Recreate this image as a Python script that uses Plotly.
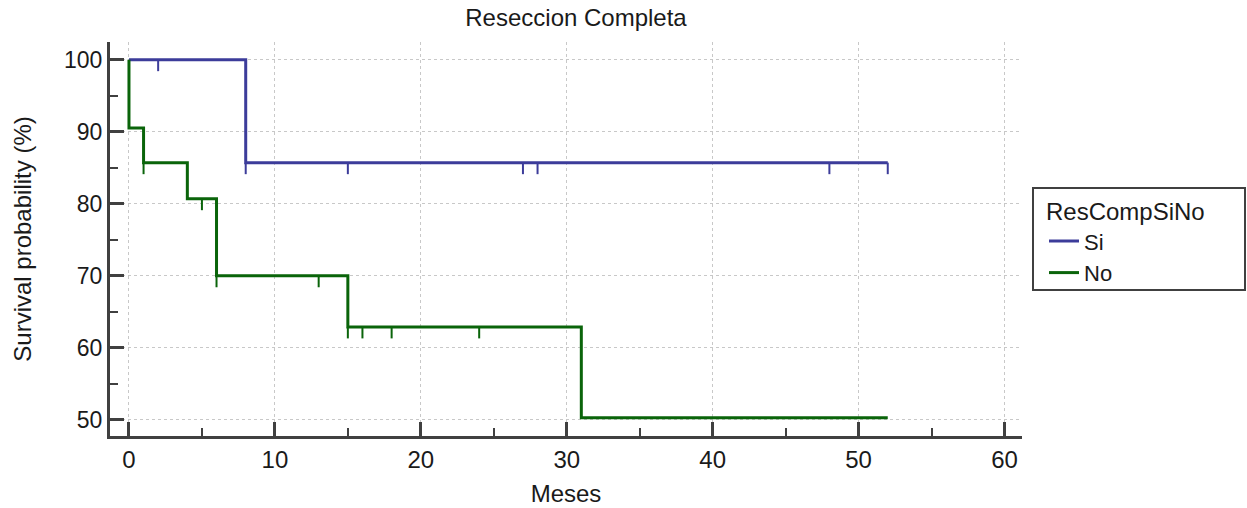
import plotly.graph_objects as go

# Kaplan-Meier step data (time in months, survival %)
si_time = [0, 8, 52]
si_surv = [100.0, 85.7, 85.7]
si_cens_time = [2, 8, 15, 27, 28, 48, 52]
si_cens_surv = [100.0, 85.7, 85.7, 85.7, 85.7, 85.7, 85.7]

no_time = [0, 0, 1, 4, 6, 15, 31, 52]
no_surv = [100.0, 90.5, 85.7, 80.7, 70.0, 62.9, 50.3, 50.3]
no_cens_time = [1, 5, 6, 13, 15, 16, 18, 24]
no_cens_surv = [85.7, 80.7, 70.0, 70.0, 62.9, 62.9, 62.9, 62.9]

x_ticks = [0, 10, 20, 30, 40, 50, 60]
y_ticks = [50, 60, 70, 80, 90, 100]

BLUE = "#3c3c9a"
GREEN = "#0a640a"
AXC = "#404040"
FONT = "Liberation Sans, Arial, sans-serif"
TICK_DROP = 1.6  # censor mark length in survival units


def cens_segments(ts, ss):
    xs, ys = [], []
    for t, s in zip(ts, ss):
        xs += [t, t, None]
        ys += [s, s - TICK_DROP, None]
    return xs, ys


fig = go.Figure()
fig.add_trace(go.Scatter(x=si_time, y=si_surv, mode="lines", line_shape="hv",
                         line=dict(color=BLUE, width=3), name="Si"))
fig.add_trace(go.Scatter(x=no_time, y=no_surv, mode="lines", line_shape="hv",
                         line=dict(color=GREEN, width=3), name="No"))
cx, cy = cens_segments(si_cens_time, si_cens_surv)
fig.add_trace(go.Scatter(x=cx, y=cy, mode="lines", line=dict(color=BLUE, width=2),
                         showlegend=False, hoverinfo="skip"))
cx, cy = cens_segments(no_cens_time, no_cens_surv)
fig.add_trace(go.Scatter(x=cx, y=cy, mode="lines", line=dict(color=GREEN, width=2),
                         showlegend=False, hoverinfo="skip"))

PW = 912.0
PH = 394.0

fig.update_layout(
    width=1247, height=508,
    margin=dict(l=110, r=225, t=42, b=72, autoexpand=False),
    paper_bgcolor="white", plot_bgcolor="white",
    font=dict(family=FONT, size=24, color="#1a1a1a"),
    title=dict(text="Reseccion Completa", x=(576 - 110) / PW, xref="paper",
               xanchor="center", y=1 - 18 / 508, yanchor="middle",
               font=dict(size=24, family=FONT, color="#1a1a1a")),
    showlegend=True,
    legend=dict(
        title=dict(text="ResCompSiNo", font=dict(size=24, family=FONT)),
        font=dict(size=22, family=FONT),
        x=(1044 - 110) / PW, xanchor="left",
        y=(436 - 189) / PH, yanchor="top",
        borderwidth=0, bgcolor="rgba(0,0,0,0)",
        tracegroupgap=0,
    ),
    shapes=[dict(type="rect", xref="paper", yref="paper",
                 x0=(1033 - 110) / PW, x1=(1245 - 110) / PW,
                 y0=(436 - 290) / PH, y1=(436 - 188) / PH,
                 line=dict(color=AXC, width=2), fillcolor="rgba(0,0,0,0)")],
)

fig.update_xaxes(
    range=[-1.3, 61.2], tickvals=x_ticks, ticktext=[str(v) for v in x_ticks],
    showline=True, linecolor=AXC, linewidth=3,
    ticks="inside", ticklen=14, tickwidth=3, tickcolor=AXC,
    minor=dict(dtick=5, tick0=0, ticks="inside", ticklen=8, tickwidth=2, tickcolor=AXC, showgrid=False),
    showgrid=True, gridcolor="#c8c8c8", griddash="dot", gridwidth=1,
    zeroline=False, automargin=False,
    title=dict(text="Meses", font=dict(size=24, family=FONT), standoff=14),
    tickfont=dict(size=24, family=FONT),
)
fig.update_yaxes(
    range=[47.75, 102.45], tickvals=y_ticks, ticktext=[str(v) for v in y_ticks],
    showline=True, linecolor=AXC, linewidth=3,
    ticks="inside", ticklen=14, tickwidth=3, tickcolor=AXC,
    minor=dict(dtick=5, tick0=50, ticks="inside", ticklen=8, tickwidth=2, tickcolor=AXC, showgrid=False),
    showgrid=True, gridcolor="#c8c8c8", griddash="dot", gridwidth=1,
    zeroline=False, automargin=False,
    title=dict(text="Survival probability (%)", font=dict(size=24, family=FONT), standoff=26),
    tickfont=dict(size=23, family=FONT),
)

fig.write_html("out.html")
